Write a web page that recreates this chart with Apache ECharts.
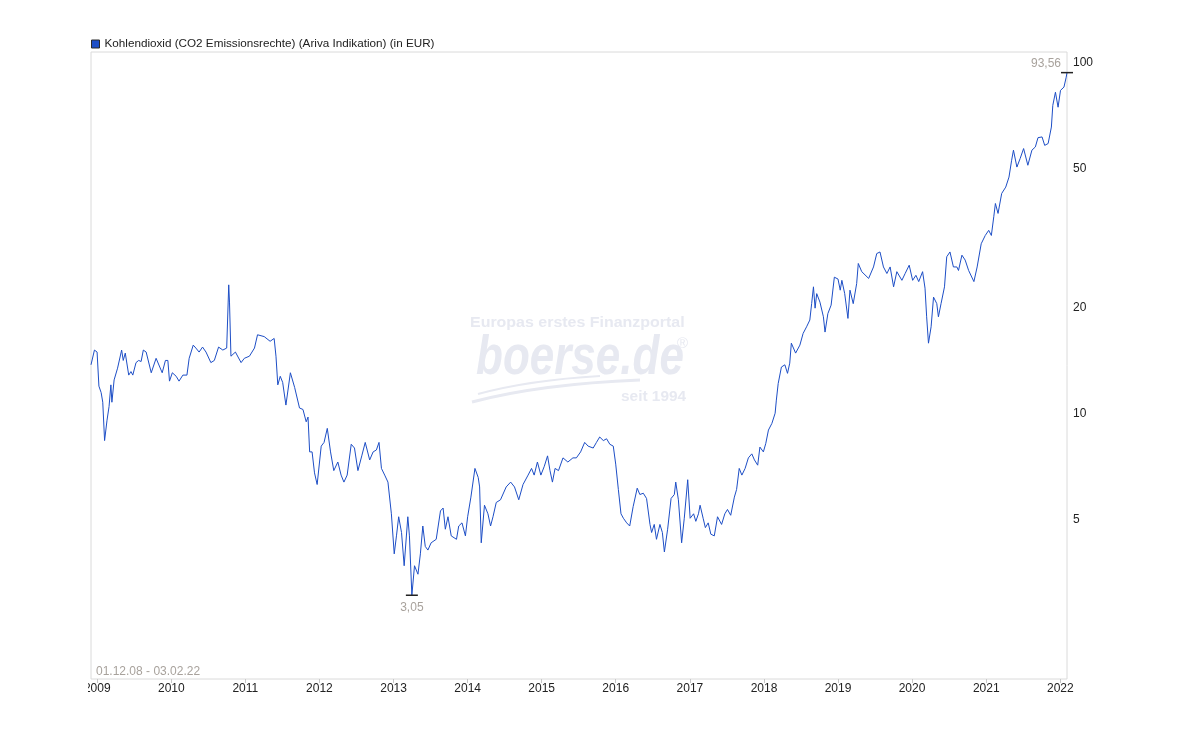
<!DOCTYPE html>
<html>
<head>
<meta charset="utf-8">
<script src="https://cdn.jsdelivr.net/npm/echarts@6/dist/echarts.min.js"></script>
<style>
html, body { margin: 0; padding: 0; background: #fff; }
#main { width: 1200px; height: 750px; }
</style>
</head>
<body>
<div id="main"></div>
<script>
var seriesName = 'Kohlendioxid (CO2 Emissionsrechte) (Ariva Indikation) (in EUR)'
var rangeText = '01.12.08 - 03.02.22'

var dates = [
    '2008-12-01', '2008-12-18', '2008-12-31', '2009-01-09', '2009-01-20', '2009-01-28', '2009-02-06', '2009-02-18',
    '2009-02-28', '2009-03-09', '2009-03-14', '2009-03-25', '2009-04-11', '2009-04-19', '2009-05-01', '2009-05-09',
    '2009-05-19', '2009-06-05', '2009-06-16', '2009-06-25', '2009-07-11', '2009-07-24', '2009-08-05', '2009-08-16',
    '2009-08-30', '2009-09-24', '2009-10-18', '2009-10-26', '2009-11-17', '2009-12-03', '2009-12-15', '2009-12-23',
    '2010-01-06', '2010-01-25', '2010-02-08', '2010-02-27', '2010-03-19', '2010-03-30', '2010-04-19', '2010-05-02',
    '2010-05-18', '2010-06-04', '2010-06-21', '2010-07-15', '2010-08-01', '2010-08-22', '2010-09-12', '2010-10-01',
    '2010-10-08', '2010-10-11', '2010-10-15', '2010-10-22', '2010-11-13', '2010-12-11', '2010-12-27', '2011-01-21',
    '2011-02-15', '2011-03-02', '2011-04-04', '2011-05-03', '2011-05-23', '2011-06-01', '2011-06-10', '2011-06-22',
    '2011-07-04', '2011-07-20', '2011-08-11', '2011-09-01', '2011-09-25', '2011-10-12', '2011-10-28', '2011-11-06',
    '2011-11-14', '2011-11-26', '2011-12-08', '2011-12-21', '2012-01-10', '2012-01-24', '2012-02-09', '2012-02-25',
    '2012-03-12', '2012-04-01', '2012-04-17', '2012-05-01', '2012-05-17', '2012-06-06', '2012-06-22', '2012-07-09',
    '2012-07-28', '2012-08-14', '2012-09-05', '2012-09-22', '2012-10-08', '2012-10-21', '2012-11-02', '2012-11-18',
    '2012-12-04', '2012-12-21', '2013-01-04', '2013-01-15', '2013-01-26', '2013-02-09', '2013-02-22', '2013-03-12',
    '2013-03-20', '2013-04-01', '2013-04-14', '2013-05-01', '2013-05-13', '2013-05-25', '2013-06-06', '2013-06-19',
    '2013-07-05', '2013-07-30', '2013-08-20', '2013-09-02', '2013-09-13', '2013-09-26', '2013-10-12', '2013-11-07',
    '2013-11-18', '2013-12-04', '2013-12-21', '2014-01-01', '2014-01-17', '2014-02-06', '2014-02-22', '2014-03-01',
    '2014-03-09', '2014-03-25', '2014-04-11', '2014-04-24', '2014-05-06', '2014-05-22', '2014-06-12', '2014-07-10',
    '2014-08-01', '2014-08-20', '2014-09-10', '2014-10-01', '2014-10-26', '2014-11-12', '2014-11-25', '2014-12-11',
    '2014-12-28', '2015-01-14', '2015-01-30', '2015-02-11', '2015-02-23', '2015-03-08', '2015-03-25', '2015-04-16',
    '2015-05-10', '2015-06-04', '2015-06-21', '2015-07-12', '2015-08-01', '2015-08-18', '2015-09-12', '2015-09-28',
    '2015-10-14', '2015-11-01', '2015-11-17', '2015-12-03', '2015-12-20', '2016-01-01', '2016-01-14', '2016-01-27',
    '2016-02-08', '2016-02-24', '2016-03-10', '2016-03-27', '2016-04-16', '2016-04-29', '2016-05-16', '2016-06-01',
    '2016-06-18', '2016-06-26', '2016-07-09', '2016-07-20', '2016-08-06', '2016-08-18', '2016-08-28', '2016-09-13',
    '2016-09-30', '2016-10-16', '2016-10-23', '2016-11-05', '2016-11-21', '2016-12-04', '2016-12-21', '2017-01-02',
    '2017-01-19', '2017-01-30', '2017-02-12', '2017-02-20', '2017-03-07', '2017-03-18', '2017-04-01', '2017-04-14',
    '2017-05-01', '2017-05-17', '2017-06-06', '2017-06-22', '2017-07-05', '2017-07-21', '2017-08-08', '2017-08-19',
    '2017-09-01', '2017-09-14', '2017-09-30', '2017-10-16', '2017-11-02', '2017-11-15', '2017-12-01', '2017-12-12',
    '2017-12-29', '2018-01-10', '2018-01-23', '2018-02-09', '2018-02-25', '2018-03-03', '2018-03-12', '2018-03-28',
    '2018-04-14', '2018-04-27', '2018-05-08', '2018-05-16', '2018-06-06', '2018-06-27', '2018-07-13', '2018-07-30',
    '2018-08-15', '2018-08-24', '2018-09-02', '2018-09-10', '2018-09-18', '2018-10-04', '2018-10-21', '2018-10-29',
    '2018-11-12', '2018-11-28', '2018-12-14', '2019-01-01', '2019-01-12', '2019-01-20', '2019-02-03', '2019-02-19',
    '2019-03-01', '2019-03-17', '2019-04-03', '2019-04-11', '2019-04-28', '2019-06-01', '2019-06-25', '2019-07-11',
    '2019-07-27', '2019-08-13', '2019-08-30', '2019-09-15', '2019-10-02', '2019-10-18', '2019-11-12', '2019-11-28',
    '2019-12-18', '2020-01-04', '2020-01-20', '2020-02-03', '2020-02-22', '2020-03-05', '2020-03-13', '2020-03-22',
    '2020-04-04', '2020-04-16', '2020-05-02', '2020-05-10', '2020-05-23', '2020-06-09', '2020-06-20', '2020-07-06',
    '2020-07-23', '2020-08-09', '2020-08-17', '2020-09-03', '2020-09-19', '2020-10-06', '2020-11-01', '2020-11-17',
    '2020-12-07', '2020-12-27', '2021-01-13', '2021-01-26', '2021-02-07', '2021-02-15', '2021-02-28', '2021-03-18',
    '2021-04-07', '2021-04-23', '2021-05-06', '2021-05-15', '2021-06-01', '2021-06-17', '2021-07-04', '2021-07-25',
    '2021-08-14', '2021-08-31', '2021-09-13', '2021-10-03', '2021-10-16', '2021-11-02', '2021-11-18', '2021-11-25',
    '2021-12-08', '2021-12-21', '2022-01-02', '2022-01-19', '2022-01-30', '2022-02-03'
]

var prices = [
    13.8, 15.2, 15.0, 12.0, 11.5, 10.8, 8.4, 9.6,
    10.5, 12.1, 10.8, 12.5, 13.5, 13.6, 15.2, 14.2,
    14.9, 12.9, 13.2, 12.9, 14.0, 14.2, 14.1, 15.2,
    15.0, 13.1, 14.4, 14.4, 13.1, 14.2, 14.2, 12.4,
    13.1, 12.8, 12.4, 12.9, 12.9, 14.4, 15.7, 15.4,
    15.0, 15.5, 15.0, 14.0, 14.2, 15.5, 15.2, 15.4,
    15.6, 23.3, 20.7, 14.6, 15.0, 14.0, 14.4, 14.6,
    15.4, 16.8, 16.6, 16.1, 16.4, 14.6, 12.1, 12.8,
    12.3, 10.6, 13.1, 11.9, 10.4, 10.3, 9.5, 9.8,
    7.8, 7.8, 6.8, 6.3, 8.1, 8.3, 9.1, 7.8,
    6.9, 7.3, 6.7, 6.4, 6.7, 8.2, 8.0, 6.9,
    7.6, 8.3, 7.4, 7.8, 7.9, 8.3, 7.0, 6.7,
    6.4, 5.2, 4.0, 4.5, 5.1, 4.6, 3.7, 5.1,
    4.5, 3.05, 3.7, 3.5, 4.0, 4.8, 4.2, 4.1,
    4.3, 4.4, 5.3, 5.4, 4.7, 5.1, 4.5, 4.4,
    4.8, 4.9, 4.5, 5.1, 5.8, 7.0, 6.6, 6.2,
    4.3, 5.5, 5.2, 4.8, 5.1, 5.6, 5.7, 6.2,
    6.4, 6.2, 5.7, 6.3, 6.7, 7.0, 6.7, 7.3,
    6.7, 7.1, 7.6, 6.9, 6.4, 7.0, 6.9, 7.5,
    7.3, 7.5, 7.5, 7.8, 8.3, 8.1, 8.0, 8.3,
    8.6, 8.4, 8.5, 8.2, 8.1, 7.2, 6.1, 5.2,
    5.05, 4.9, 4.8, 5.45, 6.15, 5.9, 5.95, 5.75,
    4.85, 4.6, 4.85, 4.4, 4.85, 4.6, 4.05, 4.7,
    5.75, 5.9, 6.4, 5.7, 4.3, 5.05, 6.5, 5.05,
    5.2, 4.95, 5.2, 5.5, 5.05, 4.75, 4.9, 4.55,
    4.5, 5.1, 4.85, 5.2, 5.35, 5.15, 5.8, 6.1,
    7.0, 6.7, 7.0, 7.5, 7.7, 7.4, 7.15, 8.05,
    7.8, 8.25, 9.0, 9.4, 10.05, 10.95, 12.2, 13.6,
    13.8, 13.05, 13.95, 15.9, 14.9, 15.7, 16.95, 17.7,
    18.5, 20.6, 23.0, 20.0, 22.0, 20.8, 18.9, 17.1,
    19.3, 20.4, 24.5, 24.2, 22.5, 24.0, 22.0, 18.7,
    22.5, 20.6, 23.5, 26.8, 25.4, 24.3, 26.2, 28.6,
    28.9, 26.2, 25.1, 26.2, 23.0, 25.4, 24.0, 25.1,
    26.5, 24.0, 24.8, 23.8, 25.4, 22.8, 18.9, 15.9,
    17.7, 21.5, 20.6, 18.9, 20.6, 23.0, 28.0, 28.9,
    26.2, 26.2, 25.6, 28.3, 27.4, 25.6, 23.8, 26.2,
    30.5, 32.2, 33.3, 32.2, 36.4, 39.7, 37.2, 42.4,
    44.2, 47.2, 52.7, 56.3, 50.4, 53.3, 56.9, 51.0,
    56.3, 57.5, 61.1, 61.4, 58.1, 58.8, 65.5, 75.5,
    82.3, 74.6, 83.3, 85.1, 90.8, 93.56
]

var yearTicks = ['2009-01-01', '2010-01-01', '2011-01-01', '2012-01-01', '2013-01-01', '2014-01-01', '2015-01-01',
    '2016-01-01', '2017-01-01', '2018-01-01', '2019-01-01', '2020-01-01', '2021-01-01', '2022-01-01']
var priceTicks = [5, 10, 20, 50, 100]

var fontFamily = '"Liberation Sans", Arial, sans-serif'
var lineColor = '#1d4ec6'
var markColor = '#a8a29c'
var wmColor = '#e7e9f1'

function toTime(s) {
    return new Date(s + 'T00:00:00Z').getTime()
}

var seriesData = dates.map(function (d, i) { return [toTime(d), prices[i]] })
var yearTickTimes = yearTicks.map(toTime)

function deNum(v) {
    return v.toFixed(2).replace('.', ',')
}

var myChart = echarts.init(document.getElementById('main'))

myChart.setOption({
    animation: false,
    backgroundColor: '#fff',
    textStyle: { fontFamily: fontFamily },
    legend: {
        left: 86,
        top: 33,
        icon: 'rect',
        itemWidth: 8,
        itemHeight: 8,
        itemStyle: { borderColor: '#2a2a2a', borderWidth: 1 },
        textStyle: { fontSize: 11.7, color: '#222', fontFamily: fontFamily },
        data: [seriesName]
    },
    grid: {
        left: 91,
        right: 133,
        top: 52,
        bottom: 71,
        show: true,
        borderColor: '#dadada',
        borderWidth: 1
    },
    xAxis: {
        type: 'value',
        min: toTime('2008-12-01'),
        max: toTime('2022-02-03'),
        axisLine: { show: false },
        axisTick: {
            show: true,
            length: 4,
            lineStyle: { color: '#c8c8c8' },
            customValues: yearTickTimes
        },
        axisLabel: {
            customValues: yearTickTimes,
            formatter: function (v) { return String(new Date(v).getUTCFullYear()) },
            color: '#222',
            fontSize: 12,
            margin: 4,
            fontFamily: fontFamily,
            hideOverlap: false
        },
        splitLine: { show: false }
    },
    yAxis: {
        type: 'log',
        logBase: 10,
        position: 'right',
        min: 1.762,
        max: 107.1,
        axisLine: { show: false },
        axisTick: { show: false },
        splitLine: { show: false },
        axisLabel: {
            customValues: priceTicks,
            formatter: function (v) { return String(Math.round(v)) },
            color: '#222',
            fontSize: 12,
            margin: 6,
            fontFamily: fontFamily
        }
    },
    graphic: [
        // watermark
        { type: 'text', x: 470, y: 316, scaleX: 1.14, z: 0, style: { text: 'Europas erstes Finanzportal', fill: wmColor, font: 'bold 14px ' + fontFamily } },
        { type: 'text', x: 476, y: 331, scaleX: 0.8, z: 0, style: { text: 'boerse.de', fill: wmColor, font: 'italic bold 55px ' + fontFamily } },
        { type: 'text', x: 677, y: 336, z: 0, style: { text: '\u00ae', fill: wmColor, font: '15px ' + fontFamily } },
        { type: 'text', x: 621, y: 390, scaleX: 1.1, z: 0, style: { text: 'seit 1994', fill: wmColor, font: 'bold 14px ' + fontFamily } },
        { type: 'bezierCurve', z: 0, shape: { x1: 472, y1: 402, x2: 640, y2: 380, cpx1: 540, cpy1: 384 }, style: { stroke: wmColor, lineWidth: 3, fill: null } },
        { type: 'bezierCurve', z: 0, shape: { x1: 478, y1: 394, x2: 600, y2: 376, cpx1: 530, cpy1: 380 }, style: { stroke: wmColor, lineWidth: 2, fill: null } },
        // date range
        { type: 'text', left: 96, top: 666, style: { text: rangeText, fill: markColor, font: '12px ' + fontFamily } },
        // the first year label is cut off at the left edge
        { type: 'rect', left: 78, top: 682, z: 100, shape: { width: 10, height: 16 }, style: { fill: '#fff' } }
    ],
    series: [
        {
            name: seriesName,
            type: 'line',
            data: seriesData,
            showSymbol: false,
            symbol: 'none',
            itemStyle: { color: lineColor },
            lineStyle: { color: lineColor, width: 1 },
            markPoint: {
                symbol: 'rect',
                symbolSize: [12, 1.5],
                itemStyle: { color: '#222' },
                data: [
                    {
                        type: 'max',
                        label: {
                            show: true, position: 'left', distance: 0, offset: [0, -9],
                            color: markColor, fontSize: 12, fontFamily: fontFamily,
                            formatter: function (p) { return deNum(p.value) }
                        }
                    },
                    {
                        type: 'min',
                        label: {
                            show: true, position: 'bottom', distance: 6,
                            color: markColor, fontSize: 12, fontFamily: fontFamily,
                            formatter: function (p) { return deNum(p.value) }
                        }
                    }
                ]
            }
        }
    ]
})
</script>
</body>
</html>
